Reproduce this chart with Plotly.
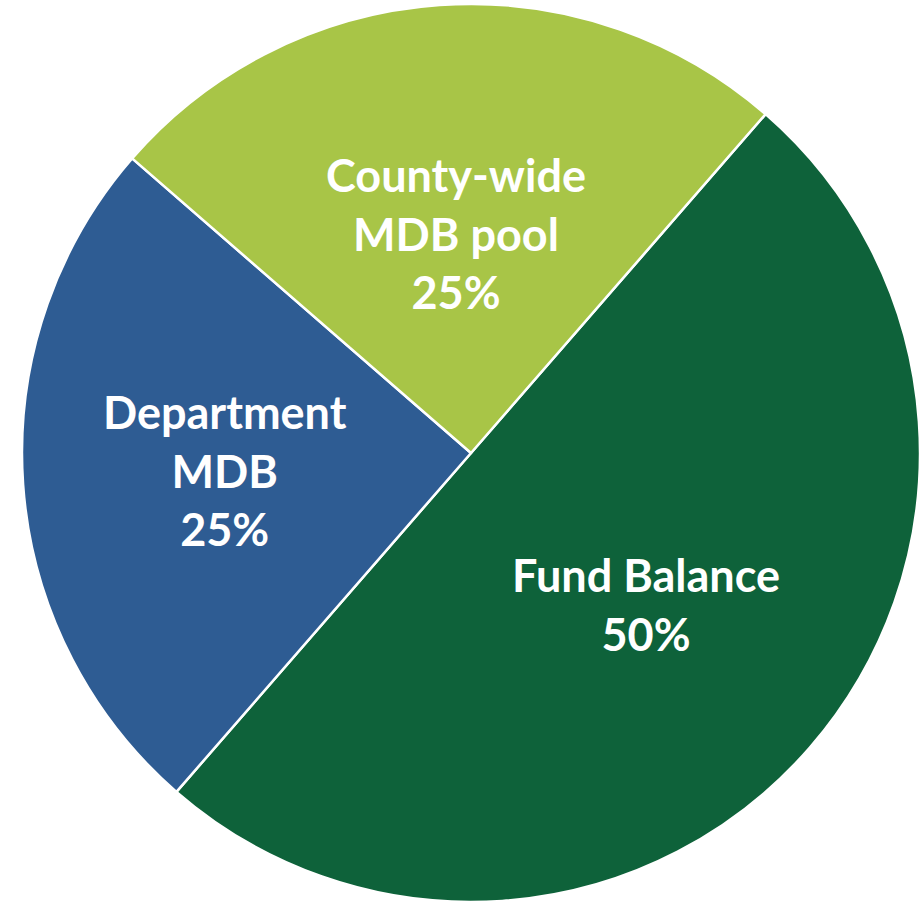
import math
import plotly.graph_objects as go

labels = ["Fund Balance", "Department<br>MDB", "County-wide<br>MDB pool"]
values = [50, 25, 25]
colors = ["#0E623A", "#2E5C93", "#A8C547"]

W, H = 920, 903
rotation = 41
dom_x = [22 / W, 1.0]
dom_y = [0, 900 / H]
label_radius = [0.515, 0.55, 0.49]  # fraction of pie radius for each label

fig = go.Figure(go.Pie(
    labels=labels,
    values=values,
    sort=False,
    direction="clockwise",
    rotation=rotation,
    marker=dict(colors=colors, line=dict(color="white", width=2.5)),
    textinfo="none",
    hoverinfo="label+percent",
    domain=dict(x=dom_x, y=dom_y),
    showlegend=False,
))

# pie geometry in pixels
px0, px1 = dom_x[0] * W, dom_x[1] * W
py0, py1 = dom_y[0] * H, dom_y[1] * H
cx, cy = (px0 + px1) / 2, (py0 + py1) / 2  # cy measured from bottom
R = min(px1 - px0, py1 - py0) / 2

total = sum(values)
cum = 0
for lab, v, fr in zip(labels, values, label_radius):
    mid = rotation + 360 * (cum + v / 2) / total
    cum += v
    th = math.radians(mid)
    x = cx + R * fr * math.sin(th)
    y = cy + R * fr * math.cos(th)
    fig.add_annotation(
        x=x / W, y=y / H, xref="paper", yref="paper",
        xanchor="center", yanchor="middle", showarrow=False,
        text=f"{lab}<br>{round(100 * v / total)}%",
        font=dict(family="Lato", size=45, color="white", weight="bold"),
    )

fig.update_layout(
    width=W, height=H,
    margin=dict(l=0, r=0, t=0, b=0),
    paper_bgcolor="white",
)
fig.write_html("out.html")
